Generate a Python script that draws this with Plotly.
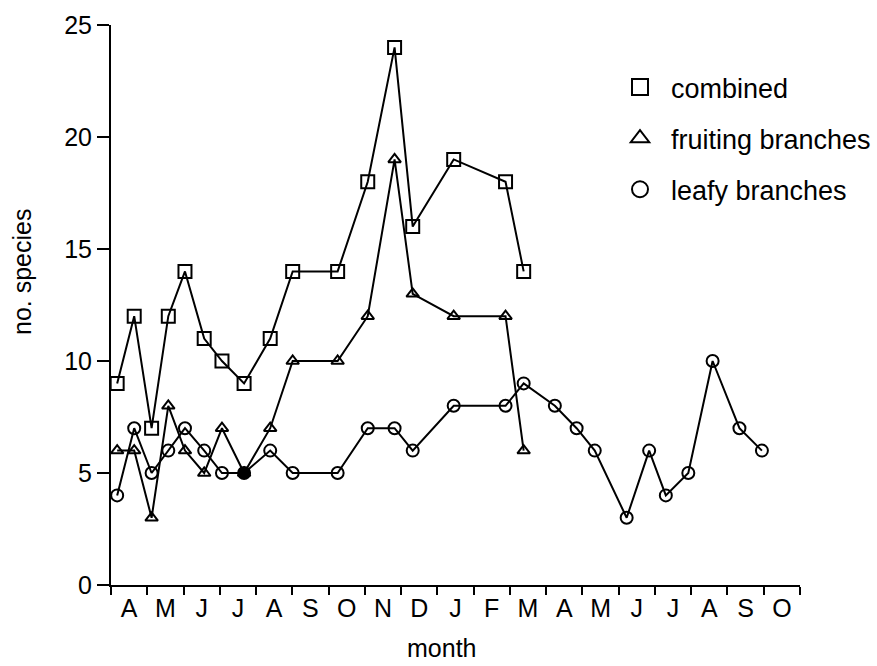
import plotly.graph_objects as go

# sampling dates, in months from the start of the first April
sample_month = [0.17, 0.64, 1.12, 1.58, 2.04, 2.57, 3.06, 3.67, 4.39, 5.01,
                6.25, 7.08, 7.82, 8.32, 9.45, 10.88, 11.38, 12.24, 12.84, 13.34,
                14.22, 14.84, 15.30, 15.92, 16.59, 17.33, 17.95]

combined = [9, 12, 7, 12, 14, 11, 10, 9, 11, 14, 14, 18, 24, 16, 19, 18, 14]
fruiting = [6, 6, 3, 8, 6, 5, 7, 5, 7, 10, 10, 12, 19, 13, 12, 12, 6]
leafy = [4, 7, 5, 6, 7, 6, 5, 5, 6, 5, 5, 7, 7, 6, 8, 8, 9,
         8, 7, 6, 3, 6, 4, 5, 10, 7, 6]

month_labels = ["A", "M", "J", "J", "A", "S", "O", "N", "D", "J", "F", "M",
                "A", "M", "J", "J", "A", "S", "O"]
y_ticks = [0, 5, 10, 15, 20, 25]

FONT = "Liberation Sans, Arial, sans-serif"
BLACK = "#000000"

ML, MR, MT, MB = 111, 77, 25, 81
W, H = 877, 666

fig = go.Figure()

line = dict(color=BLACK, width=2)

fig.add_trace(go.Scatter(
    x=sample_month[:len(combined)], y=combined, mode="lines+markers",
    line=line, showlegend=False,
    marker=dict(symbol="square-open", size=13, color=BLACK, line=dict(width=2, color=BLACK)),
))
fig.add_trace(go.Scatter(
    x=sample_month[:len(fruiting)], y=fruiting, mode="lines+markers",
    line=line, showlegend=False,
    marker=dict(symbol="triangle-up-open", size=11, color=BLACK, line=dict(width=2, color=BLACK)),
))
leafy_fill = ["rgba(0,0,0,0)"] * len(leafy)
leafy_fill[7] = BLACK
fig.add_trace(go.Scatter(
    x=sample_month[:len(leafy)], y=leafy, mode="lines+markers",
    line=line, showlegend=False,
    marker=dict(symbol="circle", size=12, color=leafy_fill, line=dict(width=2, color=BLACK)),
))

# legend entries (markers only)
for name, sym in [("combined", "square-open"), ("fruiting branches", "triangle-up-open"),
                  ("leafy branches", "circle-open")]:
    fig.add_trace(go.Scatter(
        x=[None], y=[None], mode="markers", name=name, legendgroup=name,
        marker=dict(symbol=sym, size=20, color=BLACK, line=dict(width=2, color=BLACK)),
    ))

pw = W - ML - MR
ph = H - MT - MB


def px_to_paper(x, y):
    return (x - ML) / pw, (H - MB - y) / ph


mx, my = px_to_paper(441, 648)
yx, yy = px_to_paper(22, 272)
lx, ly = px_to_paper(609, 63)

fig.update_layout(
    width=W, height=H,
    margin=dict(l=ML, r=MR, t=MT, b=MB, autoexpand=False),
    paper_bgcolor="white", plot_bgcolor="white",
    font=dict(family=FONT, size=24, color=BLACK),
    showlegend=True,
    legend=dict(x=lx, y=ly, xanchor="left", yanchor="top",
                font=dict(size=27, family=FONT), tracegroupgap=13,
                bgcolor="rgba(0,0,0,0)", itemwidth=52),
    xaxis=dict(
        range=[0, 19], showgrid=False, zeroline=False,
        showline=True, linecolor=BLACK, linewidth=2,
        tickmode="array",
        tickvals=[i + 0.5 for i in range(len(month_labels))],
        ticktext=month_labels,
        ticks="outside", ticklen=0, tickcolor="rgba(0,0,0,0)",
        tickfont=dict(size=25, family=FONT),
        minor=dict(tickmode="array", tickvals=list(range(len(month_labels) + 1)),
                   ticks="outside", ticklen=8, tickwidth=2, tickcolor=BLACK, showgrid=False),
    ),
    yaxis=dict(
        range=[0, 25], showgrid=False, zeroline=False,
        showline=True, linecolor=BLACK, linewidth=2,
        tickmode="array", tickvals=y_ticks, ticktext=[str(v) for v in y_ticks],
        ticks="outside", ticklen=12, tickwidth=2, tickcolor=BLACK,
        tickfont=dict(size=25, family=FONT),
    ),
    annotations=[
        dict(text="month", x=mx, y=my, xref="paper", yref="paper", showarrow=False,
             xanchor="center", yanchor="middle", font=dict(size=25, family=FONT)),
        dict(text="no. species", x=yx, y=yy, xref="paper", yref="paper", showarrow=False,
             xanchor="center", yanchor="middle", textangle=-90,
             font=dict(size=25, family=FONT)),
    ],
)

fig.write_html("out.html")
